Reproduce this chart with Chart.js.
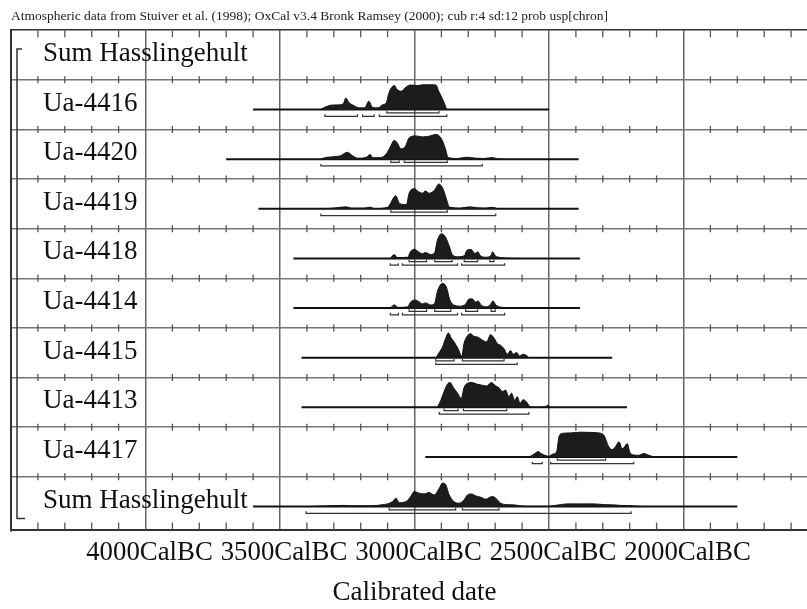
<!DOCTYPE html>
<html>
<head>
<meta charset="utf-8">
<title>Calibrated date - Hasslingehult</title>
<script src="https://cdn.jsdelivr.net/npm/chart.js@4.4.1/dist/chart.umd.min.js"></script>
<style>
  html, body { margin: 0; padding: 0; background: #fff; overflow: hidden; }
  canvas { display: block; }
</style>
</head>
<body>
<canvas id="chart" width="830" height="609"></canvas>
<script>
// Rows from top to bottom
const rowNames = ['Sum Hasslingehult', 'Ua-4416', 'Ua-4420', 'Ua-4419', 'Ua-4418',
                  'Ua-4414', 'Ua-4415', 'Ua-4413', 'Ua-4417', 'Sum Hasslingehult'];

// Axis labels (years BC)
const tickYears = [4000, 3500, 3000, 2500, 2000];
const minorYears = [4400, 4300, 4200, 4100, 3900, 3800, 3700, 3600, 3400, 3300, 3200, 3100,
                    2900, 2800, 2700, 2600, 2400, 2300, 2200, 2100, 1900, 1800, 1700, 1600];

// Plotted calibration span for each row (start, end BC)
const spans = [null, [3600, 2500], [3700, 2390], [3580, 2390], [3450, 2385],
               [3450, 2385], [3420, 2265], [3420, 2210], [2960, 1800], [3600, 1800]];

// Probability distributions, relative height (0-100)
const ua4416Years = [3350, 3330, 3310, 3285, 3265, 3255, 3245, 3225, 3205, 3185, 3170, 3155, 3135, 3120,
                     3105, 3095, 3075, 3065, 3050, 3030, 3015, 2990, 2965, 2940, 2920, 2910, 2895, 2880];
const ua4416Prob = [0, 11, 18, 19, 23, 47, 30, 16, 7, 7, 34, 8, 7, 19, 27, 68, 97, 81, 74, 92, 99, 97, 100, 100, 99, 74, 41, 0];

const ua4420Years = [3350, 3330, 3300, 3275, 3250, 3230, 3210, 3180, 3165, 3155, 3125, 3105, 3090, 3075, 3065, 3050,
                     3035, 3020, 2995, 2970, 2945, 2920, 2900, 2885, 2875, 2840, 2805, 2770, 2740, 2710, 2690, 2665];
const ua4420Prob = [0, 7, 10, 14, 28, 14, 4, 7, 19, 6, 7, 21, 49, 76, 67, 42, 49, 86, 94, 90, 93, 100, 83, 42, 7, 3, 8, 4, 3, 7, 1, 0];

const ua4419Years = [3350, 3300, 3255, 3235, 3185, 3165, 3150, 3100, 3090, 3070, 3055, 3030, 3020, 3000, 2985,
                     2970, 2960, 2945, 2925, 2910, 2895, 2880, 2870, 2830, 2795, 2765, 2735, 2710, 2690];
const ua4419Prob = [0, 3, 8, 3, 3, 7, 1, 6, 21, 53, 21, 17, 63, 81, 69, 63, 72, 63, 76, 100, 83, 35, 7, 3, 8, 4, 3, 6, 0];

const ua4418Years = [3090, 3075, 3065, 3025, 3015, 3000, 2985, 2970, 2960, 2940, 2925, 2915, 2900, 2885, 2870,
                     2860, 2840, 2815, 2805, 2790, 2775, 2765, 2755, 2735, 2715, 2710, 2700, 2680, 2645, 2605];
const ua4418Prob = [0, 16, 4, 5, 27, 37, 27, 19, 24, 16, 24, 73, 100, 87, 47, 16, 7, 11, 33, 36, 20, 27, 11, 5, 13, 27, 11, 4, 1, 0];

const ua4414Years = [3090, 3075, 3060, 3025, 3015, 3000, 2985, 2970, 2960, 2940, 2925, 2915, 2895, 2880, 2870,
                     2855, 2830, 2810, 2797, 2785, 2772, 2764, 2751, 2730, 2717, 2708, 2698, 2680, 2645, 2605];
const ua4414Prob = [0, 13, 3, 5, 24, 33, 27, 17, 21, 13, 20, 67, 100, 80, 37, 13, 8, 16, 37, 37, 24, 29, 11, 5, 16, 29, 13, 4, 1, 0];

const ua4415Years = [2920, 2908, 2896, 2884, 2874, 2863, 2853, 2838, 2824, 2816, 2803, 2791, 2779, 2764, 2748,
                     2732, 2717, 2704, 2692, 2680, 2667, 2655, 2643, 2633, 2620, 2610, 2596, 2581, 2575];
const ua4415Prob = [0, 21, 43, 79, 100, 79, 64, 36, 7, 57, 89, 97, 86, 83, 71, 64, 93, 79, 57, 50, 36, 14, 29, 14, 21, 7, 14, 7, 0];

const ua4413Years = [2915, 2902, 2890, 2878, 2868, 2855, 2840, 2826, 2816, 2803, 2785, 2766, 2748, 2732, 2714, 2698,
                     2686, 2673, 2661, 2649, 2639, 2628, 2618, 2608, 2596, 2583, 2574, 2556, 2513, 2504, 2494];
const ua4413Prob = [0, 29, 64, 93, 100, 79, 57, 36, 79, 97, 100, 93, 89, 86, 100, 86, 79, 64, 69, 43, 57, 29, 43, 17, 31, 21, 7, 0, 3, 9, 0];

const ua4417Years = [2574, 2562, 2550, 2541, 2529, 2516, 2500, 2488, 2472, 2463, 2451, 2420, 2383, 2346, 2315,
                     2296, 2278, 2265, 2253, 2240, 2228, 2219, 2209, 2200, 2185, 2166, 2148, 2129, 2110];
const ua4417Prob = [0, 7, 16, 22, 14, 7, 3, 11, 20, 81, 95, 97, 100, 99, 97, 88, 41, 30, 41, 61, 34, 41, 54, 20, 8, 7, 14, 7, 0];

const sumYears = [3400, 3323, 3261, 3224, 3175, 3137, 3125, 3100, 3082, 3069, 3057, 3032, 3014, 3001, 2983, 2964, 2946,
                  2927, 2908, 2896, 2884, 2871, 2853, 2834, 2816, 2803, 2788, 2772, 2754, 2735, 2711, 2698, 2680, 2655,
                  2630, 2605, 2581, 2506, 2482, 2457, 2432, 2383, 2333, 2296, 2259, 2234, 2203, 2160, 2135];
const sumProb = [0, 3, 5, 3, 3, 5, 7, 11, 20, 34, 16, 20, 41, 61, 54, 51, 57, 47, 74, 95, 88, 47, 20, 14, 27, 47, 51,
                 43, 38, 30, 41, 34, 14, 8, 7, 3, 1, 1, 4, 8, 11, 11, 11, 8, 7, 5, 4, 1, 0];

// Highest posterior density ranges (BC)
const ranges68 = [null,
  [[3103, 2909]],
  [[3088, 3057], [3038, 2878]],
  [[3088, 2878]],
  [[3020, 2955], [2925, 2860], [2815, 2765], [2720, 2705]],
  [[3020, 2955], [2925, 2865], [2810, 2765], [2715, 2700]],
  [[2921, 2853], [2822, 2667]],
  [[2890, 2838], [2818, 2657]],
  [[2469, 2290]],
  [[3094, 2847], [2822, 2686]]];
const ranges95 = [null,
  [[3333, 3212], [3193, 3150], [3131, 2880]],
  [[3348, 2748]],
  [[3348, 2698]],
  [[3090, 3060], [3045, 2840], [2825, 2665]],
  [[3090, 3060], [3045, 2840], [2825, 2665]],
  [[2921, 2618]],
  [[2908, 2575]],
  [[2562, 2525], [2494, 2185]],
  [[3403, 2195]]];

const distYears = [null, ua4416Years, ua4420Years, ua4419Years, ua4418Years, ua4414Years,
                   ua4415Years, ua4413Years, ua4417Years, sumYears];
const distProb = [null, ua4416Prob, ua4420Prob, ua4419Prob, ua4418Prob, ua4414Prob,
                  ua4415Prob, ua4413Prob, ua4417Prob, sumProb];

const TITLE = 'Atmospheric data from Stuiver et al. (1998); OxCal v3.4 Bronk Ramsey (2000); cub r:4 sd:12 prob usp[chron]';
const SERIF = '"Liberation Serif", "Times New Roman", serif';

// each row is one unit on the y scale, row 0 at the top
const rowBottom = i => rowNames.length - 1 - i;
const rowBase = i => rowBottom(i) + 0.4;
const PEAK = 0.5;
const rowLines = [10, 9, 8, 7, 6, 5, 4, 3, 2, 1];

function buildDatasets() {
  const sets = [];
  rowNames.forEach((name, i) => {
    if (!spans[i]) return;
    const base = rowBase(i);
    sets.push({
      label: name + ' dist',
      data: distYears[i].map((yr, k) => ({ x: yr, y: base + distProb[i][k] / 100 * PEAK })),
      borderColor: '#111', borderWidth: 1, backgroundColor: '#1c1c1c',
      fill: { value: base }, cubicInterpolationMode: 'monotone', pointRadius: 0, order: 1
    });
    sets.push({
      label: name + ' span',
      data: spans[i].map(yr => ({ x: yr, y: base })),
      borderColor: '#111', borderWidth: 2, pointRadius: 0, fill: false, order: 2
    });
    [[ranges68[i], 0.065], [ranges95[i], 0.135]].forEach(([list, drop]) => {
      list.forEach(([a, b]) => {
        const yy = base - drop;
        sets.push({
          label: name + ' range',
          data: [{ x: a, y: yy + 0.04 }, { x: a, y: yy }, { x: b, y: yy }, { x: b, y: yy + 0.04 }],
          borderColor: '#333', borderWidth: 1.2, pointRadius: 0, fill: false, order: 2
        });
      });
    });
  });

  // small century ticks on every row line
  const ticks = [];
  rowLines.forEach(v => {
    const yy = v === 10 ? v - 0.07 : v;
    minorYears.forEach(yr => ticks.push({ x: yr, y: yy }));
  });
  minorYears.forEach(yr => ticks.push({ x: yr, y: 0.01 }));
  sets.push({
    label: 'ticks', data: ticks, showLine: false,
    pointStyle: 'line', rotation: 90, pointRadius: 3.5,
    borderColor: '#555', borderWidth: 1.3, order: 3
  });
  return sets;
}

const rowLabelPlugin = {
  id: 'rowLabels',
  afterDatasetsDraw(chart) {
    const { ctx, chartArea, scales: { y } } = chart;
    ctx.save();
    ctx.font = '27px ' + SERIF;
    ctx.fillStyle = '#111';
    ctx.textBaseline = 'alphabetic';
    rowNames.forEach((name, i) => {
      ctx.fillText(name, chartArea.left + 32, y.getPixelForValue(rowBase(i)) + 1);
    });
    // group bracket on the left
    const top = y.getPixelForValue(rowBottom(0) + 0.62);
    const bot = y.getPixelForValue(rowBottom(rowNames.length - 1) + 0.16);
    const bx = chartArea.left + 6;
    ctx.strokeStyle = '#333';
    ctx.lineWidth = 1.5;
    ctx.beginPath();
    ctx.moveTo(bx + 5, top);
    ctx.lineTo(bx, top);
    ctx.lineTo(bx, bot);
    ctx.lineTo(bx + 8, bot);
    ctx.stroke();
    ctx.restore();
  }
};

new Chart(document.getElementById('chart'), {
  type: 'line',
  data: { datasets: buildDatasets() },
  plugins: [rowLabelPlugin],
  options: {
    responsive: false,
    animation: false,
    layout: { padding: { left: 11, right: 12, top: 0, bottom: 0 } },
    plugins: {
      legend: { display: false },
      tooltip: { enabled: false },
      title: {
        display: true, text: TITLE, align: 'start', color: '#222',
        font: { family: SERIF, size: 13.5, weight: 'normal' },
        padding: { top: 8, bottom: 6 }
      }
    },
    scales: {
      x: {
        type: 'linear', reverse: true, min: 1500, max: 4500,
        ticks: {
          stepSize: 500, autoSkip: false, maxRotation: 0, padding: 6, labelOffset: 4,
          color: '#111', font: { family: SERIF, size: 26.8 },
          callback: v => tickYears.includes(v) ? v + 'CalBC' : ''
        },
        grid: { color: '#666', lineWidth: 1.5, drawTicks: false },
        border: { color: '#333', width: 2 },
        title: {
          display: true, text: 'Calibrated date', color: '#111',
          font: { family: SERIF, size: 27 }, padding: { top: 2, bottom: 0 }
        }
      },
      y: {
        min: -0.08, max: 10,
        afterBuildTicks: axis => { axis.ticks = rowLines.map(v => ({ value: v })); },
        ticks: { display: false },
        grid: {
          drawTicks: false, lineWidth: 1.5,
          color: c => c.tick && c.tick.value === 10 ? '#333' : '#777'
        },
        border: { color: '#333', width: 2 }
      }
    }
  }
});
</script>
</body>
</html>
